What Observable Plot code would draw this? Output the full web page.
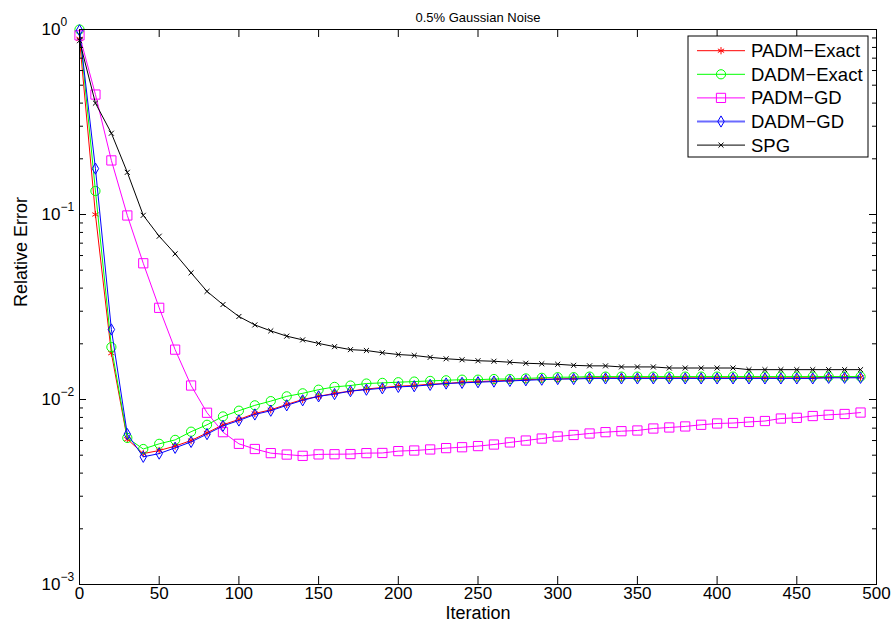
<!DOCTYPE html>
<html><head><meta charset="utf-8">
<script src="https://cdn.jsdelivr.net/npm/d3@7"></script>
<script src="https://cdn.jsdelivr.net/npm/@observablehq/plot@0.6"></script>
<style>
html,body{margin:0;padding:0;background:#fff;}
#chart{position:relative;width:895px;height:630px;}
</style></head><body><div id="chart"></div>
<script>
// ---------- data ----------
const titleText = "0.5% Gaussian Noise";
const xLabel = "Iteration";
const yLabel = "Relative Error";
const iterations = [0,10,20,30,40,50,60,70,80,90,100,110,120,130,140,150,160,170,180,190,200,210,220,230,240,250,260,270,280,290,300,310,320,330,340,350,360,370,380,390,400,410,420,430,440,450,460,470,480,490];
const seriesNames = ["PADM\u2212Exact","DADM\u2212Exact","PADM\u2212GD","DADM\u2212GD","SPG"];
const padmExact = [0.89,0.100,0.0178,0.0061,0.0051,0.0053,0.0056,0.0060,0.0066,0.0073,
  0.0078,0.0084,0.0088,0.0094,0.0100,0.0104,0.0108,0.0111,0.0114,0.0116,
  0.0118,0.0119,0.0121,0.0122,0.0124,0.0125,0.0126,0.0127,0.0128,0.0129,
  0.0129,0.0130,0.0131,0.0131,0.0131,0.0131,0.0131,0.0131,0.0131,0.0131,
  0.0131,0.0131,0.0131,0.0131,0.0131,0.0131,0.0131,0.0132,0.0132,0.0132];
const dadmExact = [1.0,0.134,0.0192,0.0062,0.0054,0.00576,0.00605,0.0067,0.0073,0.0081,
  0.0087,0.0093,0.0098,0.0104,0.0108,0.0113,0.0117,0.0119,0.0122,0.0123,
  0.0124,0.0125,0.0126,0.0127,0.0128,0.0128,0.0129,0.0129,0.0130,0.0131,
  0.0132,0.0132,0.0133,0.0133,0.0133,0.0133,0.0133,0.0133,0.0133,0.0133,
  0.0133,0.0133,0.0133,0.0133,0.0133,0.0133,0.0133,0.0133,0.0133,0.0133];
const padmGD = [0.93,0.445,0.196,0.0988,0.0545,0.0313,0.0186,0.0119,0.00848,0.00666,
  0.00576,0.0054,0.00513,0.00504,0.00496,0.00505,0.00506,0.00507,0.00513,0.00514,
  0.00526,0.0053,0.00537,0.00546,0.00552,0.0056,0.00571,0.00586,0.0060,0.00615,
  0.00631,0.00643,0.00655,0.00666,0.00674,0.0068,0.00697,0.00706,0.00715,0.0073,
  0.00742,0.00746,0.00756,0.00765,0.00789,0.00796,0.00814,0.00826,0.00835,0.0085];
const dadmGD = [0.99,0.177,0.0239,0.0065,0.0049,0.0051,0.00548,0.0059,0.0065,0.0072,
  0.0077,0.0083,0.0087,0.0093,0.0099,0.0104,0.0107,0.0111,0.0113,0.0115,
  0.0117,0.0118,0.0120,0.0122,0.0123,0.0124,0.0125,0.0126,0.0127,0.0128,
  0.0129,0.0129,0.0130,0.0130,0.0130,0.0130,0.0130,0.0130,0.0130,0.0130,
  0.0130,0.0130,0.0130,0.0130,0.0130,0.0130,0.0130,0.0131,0.0131,0.0131];
const spg = [0.87,0.40,0.275,0.169,0.099,0.0763,0.0613,0.0484,0.0384,0.0326,
  0.0281,0.0253,0.0235,0.022,0.021,0.0201,0.0193,0.0186,0.0184,0.0179,
  0.0175,0.0173,0.0169,0.0166,0.0164,0.0162,0.0161,0.0159,0.0157,0.0156,
  0.0155,0.0153,0.0152,0.0152,0.0150,0.0150,0.0150,0.0148,0.0148,0.0148,
  0.0148,0.0148,0.0145,0.0145,0.0145,0.0145,0.0145,0.0145,0.0145,0.0145];
const xTicks = [0,50,100,150,200,250,300,350,400,450,500];
const yTicks = [0.001,0.01,0.1,1];
const yTickExponents = ["\u22123","\u22122","\u22121","0"];

// ---------- styling ----------
const seriesValues = [padmExact, dadmExact, padmGD, dadmGD, spg];
const colors = ["#ff0000","#00ff00","#ff00ff","#0000ff","#000000"];
const legendLineColors = ["#ff0000","#00ff00","#ff00ff","#6a6aff","#000000"];
const legendLineWidths = [1, 1, 1, 2, 1];
const symbols = ["asterisk","circle","square","diamond","times"];
const radii = [3.4,4.6,5.2,3.4,2.4];
const d3Symbols = [d3.symbolAsterisk,d3.symbolCircle,d3.symbolSquare,d3.symbolDiamond,d3.symbolTimes];

const W = 895, H = 630, mL = 79, mR = 19, mT = 29, mB = 46;
const pw = W - mL - mR, ph = H - mT - mB;
const font = "'Liberation Sans', Arial, Helvetica, sans-serif";

const yMinor = [];
for (let k = 0; k < yTicks.length - 1; k++) for (let m = 2; m <= 9; m++) yMinor.push(yTicks[k] * m);

const marks = [];
seriesNames.forEach((name, k) => {
  const rows = iterations.map((it, i) => ({series: name, it, v: seriesValues[k][i]}));
  marks.push(Plot.line(rows, {x: "it", y: "v", stroke: colors[k], strokeWidth: 1}));
  marks.push(Plot.dot(rows, {x: "it", y: "v", symbol: symbols[k], r: radii[k], stroke: colors[k], fill: "none", strokeWidth: 1}));
});

const plot = Plot.plot({
  width: W, height: H,
  marginLeft: mL, marginRight: mR, marginTop: mT, marginBottom: mB,
  style: {fontFamily: font, background: "white", overflow: "visible"},
  x: {domain: [0, 500], axis: null},
  y: {type: "log", domain: [0.001, 1], axis: null},
  marks: [
    ...marks,
    Plot.frame({stroke: "black", strokeWidth: 1}),
    Plot.ruleX(xTicks, {x: d => d, insetTop: ph - 8, stroke: "black"}),
    Plot.ruleX(xTicks, {x: d => d, insetBottom: ph - 8, stroke: "black"}),
    Plot.ruleY(yTicks, {y: d => d, insetRight: pw - 7, stroke: "black"}),
    Plot.ruleY(yTicks, {y: d => d, insetLeft: pw - 7, stroke: "black"}),
    Plot.ruleY(yMinor, {y: d => d, insetRight: pw - 4, stroke: "black"}),
    Plot.ruleY(yMinor, {y: d => d, insetLeft: pw - 4, stroke: "black"}),
    Plot.text(xTicks, {x: d => d, frameAnchor: "bottom", dy: 14, text: d => String(d), fontSize: 17, fill: "black"}),
    Plot.text(yTicks, {y: d => d, frameAnchor: "left", dx: -19, textAnchor: "end", text: () => "10", fontSize: 17, fill: "black"}),
    Plot.text(yTicks, {y: d => d, frameAnchor: "left", dx: -19, dy: -7, textAnchor: "start", text: (d, i) => yTickExponents[i], fontSize: 12, fill: "black"}),
    Plot.text([titleText], {frameAnchor: "top", dy: -17, fontSize: 13, fill: "black"}),
    Plot.text([xLabel], {frameAnchor: "bottom", dy: 34, fontSize: 18, fill: "black"}),
    Plot.text([yLabel], {frameAnchor: "left", dx: -58, rotate: -90, fontSize: 18, fill: "black"})
  ]
});
document.getElementById("chart").appendChild(plot);

// ---------- legend ----------
const svg = d3.select(plot);
const lg = svg.append("g").attr("transform", "translate(688,36)").attr("text-anchor", "start");
lg.append("rect").attr("width", 180).attr("height", 121).attr("fill", "white").attr("stroke", "black");
seriesNames.forEach((name, k) => {
  const y = 14.7 + k * 23.6;
  lg.append("line").attr("x1", 9).attr("x2", 57).attr("y1", y).attr("y2", y)
    .attr("stroke", legendLineColors[k]).attr("stroke-width", legendLineWidths[k]);
  lg.append("path").attr("d", d3.symbol(d3Symbols[k], Math.PI * radii[k] * radii[k])())
    .attr("transform", `translate(33,${y})`).attr("fill", "none").attr("stroke", colors[k]);
  lg.append("text").attr("x", 63).attr("y", y).attr("dy", "0.35em").attr("font-size", 18.5)
    .attr("text-anchor", "start").attr("font-family", font).attr("fill", "black").text(name);
});
</script></body></html>
